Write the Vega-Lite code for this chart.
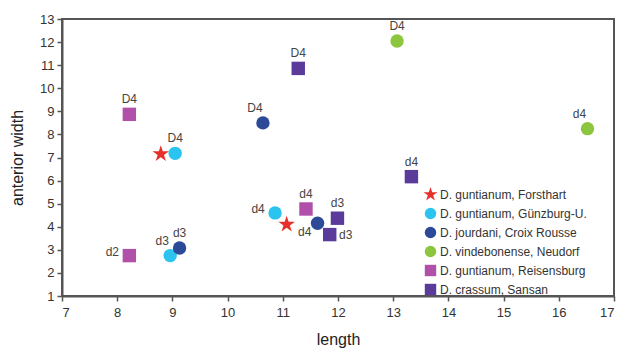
{
  "$schema": "https://vega.github.io/schema/vega-lite/v6.json",
  "width": 552,
  "height": 277,
  "autosize": "none",
  "padding": {"left": 62, "top": 19, "right": 12, "bottom": 53},
  "background": "white",
  "config": {
    "font": "Liberation Sans",
    "view": {"stroke": "#555555", "strokeWidth": 2},
    "axis": {
      "grid": false,
      "domainColor": "#555555",
      "domainWidth": 2,
      "tickColor": "#555555",
      "tickWidth": 1.5,
      "tickSize": 5,
      "labelColor": "#333333",
      "labelFontSize": 13,
      "titleColor": "#222222",
      "titleFontSize": 16,
      "titleFontWeight": "normal"
    }
  },
  "data": {
    "values": [
      {"species": "D. guntianum, Forsthart", "x": 8.79, "y": 7.15, "lab": "", "pos": "none"},
      {"species": "D. guntianum, Forsthart", "x": 11.07, "y": 4.1, "lab": "d4", "pos": "belowright"},
      {"species": "D. guntianum, Günzburg-U.", "x": 9.05, "y": 7.18, "lab": "D4", "pos": "above"},
      {"species": "D. guntianum, Günzburg-U.", "x": 10.86, "y": 4.6, "lab": "d4", "pos": "left"},
      {"species": "D. guntianum, Günzburg-U.", "x": 8.96, "y": 2.75, "lab": "d3", "pos": "aboveleft"},
      {"species": "D. jourdani, Croix Rousse", "x": 10.64, "y": 8.5, "lab": "D4", "pos": "aboveleft"},
      {"species": "D. jourdani, Croix Rousse", "x": 11.63, "y": 4.15, "lab": "", "pos": "none"},
      {"species": "D. jourdani, Croix Rousse", "x": 9.13, "y": 3.08, "lab": "d3", "pos": "above"},
      {"species": "D. vindebonense, Neudorf", "x": 13.07, "y": 12.05, "lab": "D4", "pos": "above"},
      {"species": "D. vindebonense, Neudorf", "x": 16.52, "y": 8.25, "lab": "d4", "pos": "aboveleft"},
      {"species": "D. guntianum, Reisensburg", "x": 8.22, "y": 8.87, "lab": "D4", "pos": "above"},
      {"species": "D. guntianum, Reisensburg", "x": 8.22, "y": 2.75, "lab": "d2", "pos": "left"},
      {"species": "D. guntianum, Reisensburg", "x": 11.42, "y": 4.77, "lab": "d4", "pos": "above"},
      {"species": "D. crassum, Sansan", "x": 11.28, "y": 10.86, "lab": "D4", "pos": "above"},
      {"species": "D. crassum, Sansan", "x": 13.33, "y": 6.17, "lab": "d4", "pos": "above"},
      {"species": "D. crassum, Sansan", "x": 11.99, "y": 4.37, "lab": "d3", "pos": "above"},
      {"species": "D. crassum, Sansan", "x": 11.85, "y": 3.66, "lab": "d3", "pos": "right"}
    ]
  },
  "encoding": {
    "x": {
      "field": "x", "type": "quantitative",
      "scale": {"domain": [7, 17], "nice": false, "zero": false},
      "axis": {"title": "length", "values": [7,8,9,10,11,12,13,14,15,16,17], "labelPadding": 5, "titlePadding": 12}
    },
    "y": {
      "field": "y", "type": "quantitative",
      "scale": {"domain": [1, 13], "nice": false, "zero": false},
      "axis": {"title": "anterior width", "values": [1,2,3,4,5,6,7,8,9,10,11,12,13], "labelPadding": 3, "titlePadding": 14}
    }
  },
  "layer": [
    {
      "mark": {"type": "point", "filled": true, "opacity": 1, "size": 180},
      "encoding": {
        "color": {
          "field": "species", "type": "nominal",
          "scale": {
            "domain": ["D. guntianum, Forsthart", "D. guntianum, Günzburg-U.", "D. jourdani, Croix Rousse", "D. vindebonense, Neudorf", "D. guntianum, Reisensburg", "D. crassum, Sansan"],
            "range": ["#e8302a", "#2bc3ef", "#2d4a98", "#8cc63f", "#b150a8", "#5a3b9a"]
          },
          "legend": {
            "title": null,
            "orient": "none",
            "legendX": 362,
            "legendY": 169,
            "labelFontSize": 12,
            "labelColor": "#333333",
            "symbolSize": 130,
            "rowPadding": 0,
            "labelOffset": 3,
            "symbolOpacity": 1
          }
        },
        "shape": {
          "field": "species", "type": "nominal",
          "scale": {
            "domain": ["D. guntianum, Forsthart", "D. guntianum, Günzburg-U.", "D. jourdani, Croix Rousse", "D. vindebonense, Neudorf", "D. guntianum, Reisensburg", "D. crassum, Sansan"],
            "range": ["M0,-1.3L0.292,-0.402L1.236,-0.402L0.472,0.153L0.764,1.052L0,0.497L-0.764,1.052L-0.472,0.153L-1.236,-0.402L-0.292,-0.402Z", "circle", "circle", "circle", "square", "square"]
          }
        }
      }
    },
    {
      "transform": [{"filter": "datum.pos == 'above'"}],
      "mark": {"type": "text", "fontSize": 12, "fill": "#444444", "dy": -15, "baseline": "middle"},
      "encoding": {"text": {"field": "lab"}}
    },
    {
      "transform": [{"filter": "datum.pos == 'aboveleft'"}],
      "mark": {"type": "text", "fontSize": 12, "fill": "#444444", "dx": -8, "dy": -15, "baseline": "middle"},
      "encoding": {"text": {"field": "lab"}}
    },
    {
      "transform": [{"filter": "datum.pos == 'left'"}],
      "mark": {"type": "text", "fontSize": 12, "fill": "#444444", "dx": -17, "dy": -4, "baseline": "middle"},
      "encoding": {"text": {"field": "lab"}}
    },
    {
      "transform": [{"filter": "datum.pos == 'right'"}],
      "mark": {"type": "text", "fontSize": 12, "fill": "#444444", "dx": 16, "dy": 0, "baseline": "middle"},
      "encoding": {"text": {"field": "lab"}}
    },
    {
      "transform": [{"filter": "datum.pos == 'belowright'"}],
      "mark": {"type": "text", "fontSize": 12, "fill": "#444444", "dx": 18, "dy": 8, "baseline": "middle"},
      "encoding": {"text": {"field": "lab"}}
    }
  ]
}
